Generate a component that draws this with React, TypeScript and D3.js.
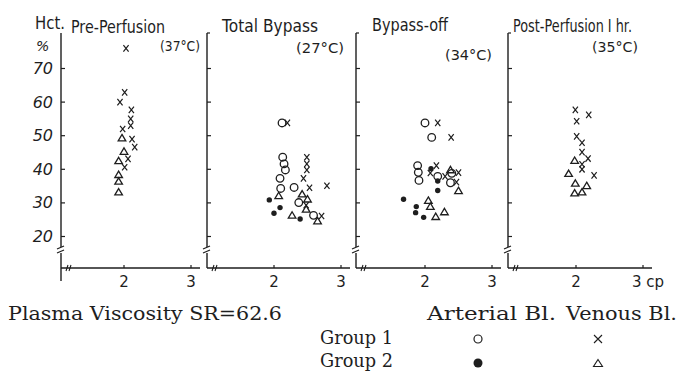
import React from "react";
import * as d3 from "d3";

// ---- data ----
const panelTitles = ["Pre-Perfusion", "Total Bypass", "Bypass-off", "Post-Perfusion I hr."];
const panelTemps = ["(37°C)", "(27°C)", "(34°C)", "(35°C)"];
const yTicks = [20, 30, 40, 50, 60, 70];
const xTicks = [2, 3];

type Pt = [number, number]; // [viscosity cP, Hct %]

// Pre-Perfusion
const preArterial1: Pt[] = [];
const preVenous1: Pt[] = [[2.03, 76], [2.01, 62.9], [1.94, 60], [2.11, 57.7], [2.1, 55], [2.1, 53], [1.98, 52], [2.12, 49], [2.16, 46.6], [2.06, 43.1], [2.01, 40.6]];
const preArterial2: Pt[] = [];
const preVenous2: Pt[] = [[1.97, 49.3], [2.0, 45.3], [1.92, 42.5], [1.92, 38.4], [1.92, 36.4], [1.92, 33.2]];

// Total Bypass
const bypassArterial1: Pt[] = [[2.12, 53.8], [2.13, 43.6], [2.15, 41.6], [2.17, 39.8], [2.09, 37.3], [2.1, 34.3], [2.3, 34.6], [2.37, 30.1], [2.59, 26.3]];
const bypassVenous1: Pt[] = [[2.2, 53.8], [2.49, 43.6], [2.49, 41.6], [2.49, 39.8], [2.44, 37.3], [2.53, 34.5], [2.79, 35.1], [2.48, 29.3], [2.71, 26.1]];
const bypassArterial2: Pt[] = [[1.93, 30.9], [2.09, 28.6], [2.0, 26.9], [2.39, 25.2]];
const bypassVenous2: Pt[] = [[2.07, 32.1], [2.42, 32.6], [2.5, 31.1], [2.48, 28.1], [2.27, 26.3], [2.65, 24.6]];

// Bypass-off
const offArterial1: Pt[] = [[2.0, 53.8], [2.1, 49.5], [1.89, 41.1], [1.9, 39.1], [1.91, 36.7], [2.19, 37.9], [2.38, 36], [2.4, 38.8]];
const offVenous1: Pt[] = [[2.19, 53.8], [2.39, 49.5], [2.17, 41.1], [2.08, 38.9], [2.3, 37.9], [2.5, 39.0], [2.47, 36.2]];
const offArterial2: Pt[] = [[2.09, 40.2], [2.19, 36.5], [2.19, 33.7], [1.68, 31.1], [1.87, 28.9], [1.86, 27.1], [1.98, 25.7]];
const offVenous2: Pt[] = [[2.38, 39.8], [2.5, 33.6], [2.05, 30.7], [2.08, 28.9], [2.29, 27.3], [2.16, 25.9]];

// Post-Perfusion 1 hr
const postArterial1: Pt[] = [];
const postVenous1: Pt[] = [[1.99, 57.7], [2.19, 56.2], [2.01, 54.3], [2.01, 49.8], [2.09, 47.9], [2.09, 45.1], [2.18, 43.2], [2.09, 41.5], [2.09, 40], [2.27, 38.2]];
const postArterial2: Pt[] = [];
const postVenous2: Pt[] = [[1.98, 42.6], [1.89, 38.7], [1.99, 35.8], [2.16, 35.1], [1.98, 32.9], [2.09, 33.2]];

const panelSeries = [
  { a1: preArterial1, v1: preVenous1, a2: preArterial2, v2: preVenous2 },
  { a1: bypassArterial1, v1: bypassVenous1, a2: bypassArterial2, v2: bypassVenous2 },
  { a1: offArterial1, v1: offVenous1, a2: offArterial2, v2: offVenous2 },
  { a1: postArterial1, v1: postVenous1, a2: postArterial2, v2: postVenous2 },
];

// ---- layout ----
const W = 679, H = 373;
const INK = "#1e1e1e";
const HAND = "'DejaVu Sans', sans-serif";
const SERIF = "'DejaVu Serif', serif";
const axisX = [61, 207, 356, 508];
const tick2X = [124, 274, 425, 576];
const unitPx = 67;
const axisTop = 33;
const breakY = 250;
const baseY = 268;

const titlePos = [
  { x: 71, y: 33, len: 94, tx: 160, ty: 51, tlen: 40 },
  { x: 222, y: 32, len: 96, tx: 296, ty: 53, tlen: 48 },
  { x: 372, y: 31, len: 76, tx: 445, ty: 60, tlen: 47 },
  { x: 513, y: 32, len: 119, tx: 592, ty: 52, tlen: 46 },
];

const yScale = d3.scaleLinear().domain([20, 70]).range([236.5, 68.5]);

const Cross = ({ x, y }: { x: number; y: number }) => (
  <path d={`M${x - 2.6},${y - 3.2}L${x + 2.6},${y + 3.2}M${x + 2.6},${y - 3.2}L${x - 2.6},${y + 3.2}`} stroke={INK} strokeWidth={1.2} fill="none" />
);
const Tri = ({ x, y }: { x: number; y: number }) => (
  <path d={`M${x},${y - 3.6}L${x + 3.8},${y + 2.8}L${x - 3.8},${y + 2.8}Z`} stroke={INK} strokeWidth={1.3} fill="none" />
);
const Ring = ({ x, y }: { x: number; y: number }) => (
  <circle cx={x} cy={y} r={3.8} stroke={INK} strokeWidth={1.3} fill="none" />
);
const Dot = ({ x, y }: { x: number; y: number }) => <circle cx={x} cy={y} r={2.7} fill={INK} />;

function Panel({ i }: { i: number }) {
  const ax = axisX[i];
  const xs = d3.scaleLinear().domain([2, 3]).range([tick2X[i], tick2X[i] + unitPx]);
  const xEnd = tick2X[i] + unitPx + 9;
  const s = panelSeries[i];
  const t = titlePos[i];
  const yBottom = i === 0 ? 281 : baseY;
  return (
    <g>
      {/* y axis with break */}
      <line x1={ax} x2={ax} y1={axisTop} y2={breakY - 3} stroke={INK} strokeWidth={1.4} />
      <line x1={ax} x2={ax} y1={breakY + 3} y2={yBottom} stroke={INK} strokeWidth={1.4} />
      <line x1={ax - 4} x2={ax + 3} y1={breakY - 1} y2={breakY - 4} stroke={INK} strokeWidth={1.2} />
      <line x1={ax - 4} x2={ax + 3} y1={breakY + 3} y2={breakY} stroke={INK} strokeWidth={1.2} />
      {i > 0 && <line x1={ax} x2={ax + 3} y1={axisTop} y2={axisTop} stroke={INK} strokeWidth={1.2} />}
      {yTicks.map((v) => (
        <line key={v} x1={ax} x2={ax + 4} y1={yScale(v)} y2={yScale(v)} stroke={INK} strokeWidth={1.2} />
      ))}
      {i === 0 &&
        yTicks.map((v) => (
          <text key={v} x={ax - 8} y={yScale(v) + 5.5} fontFamily={HAND} fontStyle="italic" fontSize={16} fill={INK} textAnchor="end">
            {v}
          </text>
        ))}
      {/* x axis */}
      <line x1={ax} x2={xEnd} y1={baseY} y2={baseY} stroke={INK} strokeWidth={1.4} />
      <line x1={ax + 5} x2={ax + 7} y1={baseY + 3} y2={baseY - 3} stroke={INK} strokeWidth={1.1} />
      <line x1={ax + 8} x2={ax + 10} y1={baseY + 3} y2={baseY - 3} stroke={INK} strokeWidth={1.1} />
      {xTicks.map((v) => (
        <line key={v} x1={xs(v)} x2={xs(v)} y1={baseY} y2={baseY - 3} stroke={INK} strokeWidth={1.2} />
      ))}
      {xTicks.map((v) =>
        i === 3 && v === 3 ? (
          <text key={v} x={xs(v) - 11} y={287} fontFamily={HAND} fontSize={15} fill={INK}>
            3 cp
          </text>
        ) : (
          <text key={v} x={xs(v)} y={287} fontFamily={HAND} fontSize={15} fill={INK} textAnchor="middle">
            {v}
          </text>
        )
      )}
      {/* titles */}
      <text x={t.x} y={t.y} fontFamily={HAND} fontSize={17} fill={INK} textLength={t.len} lengthAdjust="spacingAndGlyphs">
        {panelTitles[i]}
      </text>
      <text x={t.tx} y={t.ty} fontFamily={HAND} fontSize={14} fill={INK} textLength={t.tlen} lengthAdjust="spacingAndGlyphs">
        {panelTemps[i]}
      </text>
      {/* marks */}
      {s.a1.map((d, k) => <Ring key={"a1" + k} x={xs(d[0])} y={yScale(d[1])} />)}
      {s.v1.map((d, k) => <Cross key={"v1" + k} x={xs(d[0])} y={yScale(d[1])} />)}
      {s.a2.map((d, k) => <Dot key={"a2" + k} x={xs(d[0])} y={yScale(d[1])} />)}
      {s.v2.map((d, k) => <Tri key={"v2" + k} x={xs(d[0])} y={yScale(d[1])} />)}
    </g>
  );
}

export default function App() {
  return (
    <svg width={W} height={H} viewBox={`0 0 ${W} ${H}`} style={{ position: "absolute", left: 0, top: 0, background: "#fff" }}>
      <rect width={W} height={H} fill="#fff" />
      <text x={35} y={29} fontFamily={HAND} fontSize={17} fill={INK} textLength={30} lengthAdjust="spacingAndGlyphs">
        Hct.
      </text>
      <text x={36} y={51} fontFamily={HAND} fontStyle="italic" fontSize={14} fill={INK}>
        %
      </text>
      {panelTitles.map((_, i) => (
        <Panel key={i} i={i} />
      ))}
      {/* footer legend */}
      <text x={8} y={320} fontFamily={SERIF} fontSize={19} fill={INK} textLength={274} lengthAdjust="spacingAndGlyphs">
        Plasma Viscosity SR=62.6
      </text>
      <text x={427} y={320} fontFamily={SERIF} fontSize={19} fill={INK} textLength={129} lengthAdjust="spacingAndGlyphs">
        Arterial Bl.
      </text>
      <text x={566} y={320} fontFamily={SERIF} fontSize={19} fill={INK} textLength={111} lengthAdjust="spacingAndGlyphs">
        Venous Bl.
      </text>
      <text x={320} y={344} fontFamily={SERIF} fontSize={19} fill={INK} textLength={73} lengthAdjust="spacingAndGlyphs">
        Group 1
      </text>
      <text x={320} y={367} fontFamily={SERIF} fontSize={19} fill={INK} textLength={73} lengthAdjust="spacingAndGlyphs">
        Group 2
      </text>
      <circle cx={478} cy={339} r={4} stroke={INK} strokeWidth={1.2} fill="none" />
      <path d="M594,335L602,343M602,335L594,343" stroke={INK} strokeWidth={1.1} />
      <circle cx={478} cy={363} r={4.5} fill={INK} />
      <path d="M598,359.5L602.5,366.5L593.5,366.5Z" stroke={INK} strokeWidth={1.1} fill="none" />
    </svg>
  );
}
